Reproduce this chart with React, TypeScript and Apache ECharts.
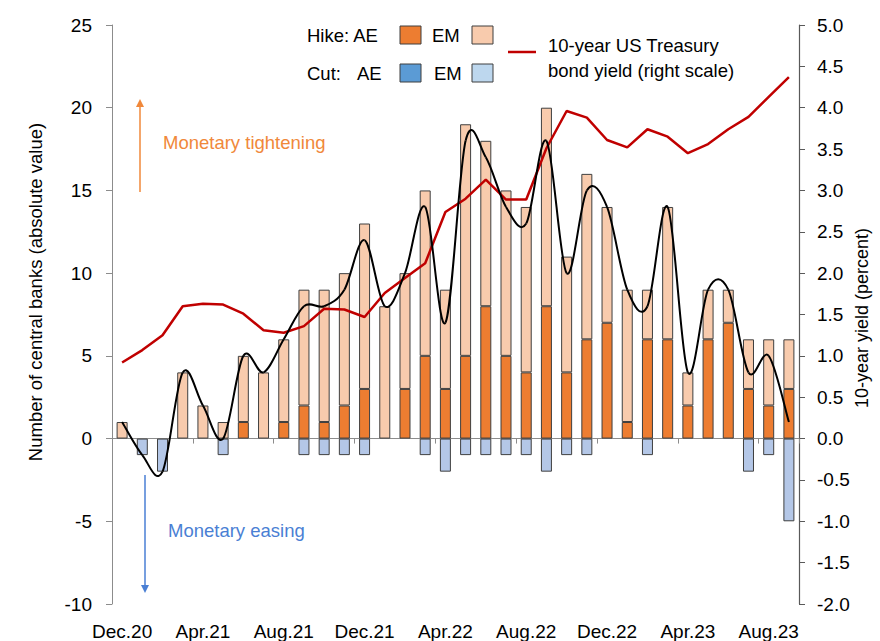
import React, { useEffect, useRef } from "react";
import * as echarts from "echarts";

const months = [
  "Dec.20", "Jan.21", "Feb.21", "Mar.21", "Apr.21", "May.21", "Jun.21", "Jul.21", "Aug.21", "Sep.21", "Oct.21", "Nov.21",
  "Dec.21", "Jan.22", "Feb.22", "Mar.22", "Apr.22", "May.22", "Jun.22", "Jul.22", "Aug.22", "Sep.22", "Oct.22", "Nov.22",
  "Dec.22", "Jan.23", "Feb.23", "Mar.23", "Apr.23", "May.23", "Jun.23", "Jul.23", "Aug.23", "Sep.23",
];

// Number of central banks (absolute values)
const hikeAE = [0, 0, 0, 0, 0, 0, 1, 0, 1, 2, 1, 2, 3, 0, 3, 5, 3, 5, 8, 5, 4, 8, 4, 6, 7, 1, 6, 6, 2, 6, 7, 3, 2, 3];
const hikeEM = [1, 0, 0, 4, 2, 1, 4, 4, 5, 7, 8, 8, 10, 8, 7, 10, 6, 14, 10, 10, 10, 12, 7, 10, 7, 8, 3, 8, 2, 3, 2, 3, 4, 3];
const cutAE = [0, 0, 0, 0, 0, 0, 0, 0, 0, 0, 0, 0, 0, 0, 0, 0, 0, 0, 0, 0, 0, 0, 0, 0, 0, 0, 0, 0, 0, 0, 0, 0, 0, 0];
const cutEM = [0, 1, 2, 0, 0, 1, 0, 0, 0, 1, 1, 1, 1, 0, 0, 1, 2, 1, 1, 1, 1, 2, 1, 1, 0, 0, 1, 0, 0, 0, 0, 2, 1, 5];

// 10-year US Treasury bond yield (percent)
const yield10y = [
  0.92, 1.07, 1.25, 1.6, 1.63, 1.62, 1.51, 1.31, 1.28, 1.36, 1.57, 1.56, 1.47, 1.76, 1.94, 2.12, 2.74,
  2.9, 3.13, 2.89, 2.89, 3.51, 3.96, 3.88, 3.61, 3.52, 3.74, 3.65, 3.45, 3.56, 3.74, 3.89, 4.13, 4.37,
];

const leftTicks = { min: -10, max: 25, interval: 5 };
const rightTicks = { min: -2, max: 5, interval: 0.5 };

const FONT = "'Liberation Sans', Arial, sans-serif";
const C_HIKE_AE = "#ED7D31";
const C_HIKE_EM = "#F8CBAD";
const C_CUT_AE = "#5B9BD5";
const C_CUT_EM = "#B4C7E7";
const C_CUT_EM_LEG = "#BDD7EE";
const C_BORDER = "#3F3F3F";
const C_RED = "#C00000";

export default function App() {
  const ref = useRef<HTMLDivElement>(null);

  useEffect(() => {
    if (!ref.current) return;
    const chart = echarts.init(ref.current, undefined, { renderer: "svg" });

    const nz = (arr: number[], sign = 1) => arr.map((v) => (v === 0 ? null : sign * v));
    const net = months.map((_, i) => hikeAE[i] + hikeEM[i] - cutAE[i] - cutEM[i]);

    const barBase = {
      type: "bar",
      stack: "banks",
      barWidth: 11,
      xAxisIndex: 0,
      yAxisIndex: 0,
    };

    const txt = (x: number, y: number, text: string, extra: any = {}) => ({
      type: "text",
      x,
      y,
      style: {
        text,
        fill: "#000",
        font: `18.5px ${FONT}`,
        verticalAlign: "middle",
        align: "left",
        ...extra,
      },
      z: 100,
    });
    const box = (x: number, y: number, fill: string) => ({
      type: "rect",
      shape: { x, y, width: 21, height: 18 },
      style: { fill, stroke: C_BORDER, lineWidth: 1 },
      z: 100,
    });

    // Smooth (Catmull-Rom style) net line, one bezier segment per month, through the axes' scales
    const renderNet = (params: any, api: any) => {
      const i = params.dataIndex;
      const n = net.length;
      if (i >= n - 1) return { type: "group", children: [] };
      const p = (k: number) => api.coord([Math.max(0, Math.min(n - 1, k)), net[Math.max(0, Math.min(n - 1, k))]]);
      const p0 = p(i - 1);
      const p1 = p(i);
      const p2 = p(i + 1);
      const p3 = p(i + 2);
      const t = 6;
      return {
        type: "bezierCurve",
        shape: {
          x1: p1[0],
          y1: p1[1],
          x2: p2[0],
          y2: p2[1],
          cpx1: p1[0] + (p2[0] - p0[0]) / t,
          cpy1: p1[1] + (p2[1] - p0[1]) / t,
          cpx2: p2[0] - (p3[0] - p1[0]) / t,
          cpy2: p2[1] - (p3[1] - p1[1]) / t,
        },
        style: { stroke: "#000", lineWidth: 2, fill: null },
      };
    };

    const option: any = {
      animation: false,
      textStyle: { fontFamily: FONT },
      grid: { left: 112, right: 81, top: 25, bottom: 37, containLabel: false },
      xAxis: [
        {
          type: "category",
          data: months,
          position: "bottom",
          axisLine: { show: false, onZero: false },
          axisTick: { show: false },
          axisLabel: { interval: 3, color: "#000", fontSize: 19, fontFamily: FONT, margin: 18 },
          splitLine: { show: false },
        },
        {
          type: "category",
          data: months,
          position: "bottom",
          axisLine: { show: true, onZero: true, onZeroAxisIndex: 0, lineStyle: { color: "#8C8C8C", width: 1 } },
          axisTick: { show: true, interval: 3, length: 5, lineStyle: { color: "#8C8C8C" } },
          axisLabel: { show: false },
          splitLine: { show: false },
        },
      ],
      yAxis: [
        {
          type: "value",
          ...leftTicks,
          position: "left",
          axisLine: { show: true, lineStyle: { color: "#8C8C8C", width: 1 } },
          axisTick: { show: true, length: 6, lineStyle: { color: "#8C8C8C" } },
          axisLabel: { color: "#000", fontSize: 19, fontFamily: FONT, margin: 20 },
          splitLine: { show: false },
        },
        {
          type: "value",
          ...rightTicks,
          position: "right",
          axisLine: { show: true, lineStyle: { color: "#595959", width: 1.2 } },
          axisTick: { show: true, length: 6, lineStyle: { color: "#595959" } },
          axisLabel: {
            color: "#000",
            fontSize: 19,
            fontFamily: FONT,
            margin: 18,
            formatter: (v: number) => v.toFixed(1),
          },
          splitLine: { show: false },
        },
      ],
      series: [
        {
          ...barBase,
          name: "Hike: AE",
          data: nz(hikeAE),
          itemStyle: { color: C_HIKE_AE, borderColor: C_BORDER, borderWidth: 1 },
        },
        {
          ...barBase,
          name: "Hike: EM",
          data: nz(hikeEM),
          itemStyle: { color: C_HIKE_EM, borderColor: C_BORDER, borderWidth: 1 },
        },
        {
          ...barBase,
          name: "Cut: AE",
          data: nz(cutAE, -1),
          itemStyle: { color: C_CUT_AE, borderColor: C_BORDER, borderWidth: 1 },
        },
        {
          ...barBase,
          name: "Cut: EM",
          data: nz(cutEM, -1),
          itemStyle: { color: C_CUT_EM, borderColor: C_BORDER, borderWidth: 1 },
        },
        {
          type: "line",
          name: "10-year US Treasury bond yield (right scale)",
          xAxisIndex: 0,
          yAxisIndex: 1,
          data: yield10y,
          showSymbol: false,
          symbol: "none",
          lineStyle: { color: C_RED, width: 2.5 },
          z: 5,
        },
        {
          type: "custom",
          name: "Net",
          coordinateSystem: "cartesian2d",
          xAxisIndex: 0,
          yAxisIndex: 0,
          data: net.map((v, i) => [i, v]),
          encode: { x: 0, y: 1 },
          renderItem: renderNet,
          clip: false,
          z: 6,
        },
      ],
      graphic: [
        // Legend
        txt(307, 35, "Hike: AE"),
        box(400, 26, C_HIKE_AE),
        txt(432, 35, "EM"),
        box(472, 26, C_HIKE_EM),
        txt(307, 73, "Cut:"),
        txt(357, 73, "AE"),
        box(400, 64, C_CUT_AE),
        txt(434, 73, "EM"),
        box(472, 64, C_CUT_EM_LEG),
        {
          type: "line",
          shape: { x1: 508, y1: 52, x2: 536, y2: 52 },
          style: { stroke: C_RED, lineWidth: 2.5 },
          z: 100,
        },
        txt(548, 45, "10-year US Treasury"),
        txt(548, 70, "bond yield (right scale)"),
        // Axis names
        {
          type: "text",
          x: 35,
          y: 292,
          rotation: Math.PI / 2,
          style: {
            text: "Number of central banks (absolute value)",
            fill: "#000",
            font: `18.5px ${FONT}`,
            align: "center",
            verticalAlign: "middle",
          },
        },
        {
          type: "text",
          x: 862,
          y: 318,
          rotation: Math.PI / 2,
          style: {
            text: "10-year yield (percent)",
            fill: "#000",
            font: `18px ${FONT}`,
            align: "center",
            verticalAlign: "middle",
          },
        },
        // Annotations
        {
          type: "line",
          shape: { x1: 140, y1: 192, x2: 140, y2: 106 },
          style: { stroke: "#F0883A", lineWidth: 1.5 },
        },
        {
          type: "polygon",
          shape: { points: [[136, 107], [144, 107], [140, 99]] },
          style: { fill: "#F0883A" },
        },
        txt(163, 142, "Monetary tightening", { fill: "#F0883A" }),
        {
          type: "line",
          shape: { x1: 145, y1: 475, x2: 145, y2: 586 },
          style: { stroke: "#4A7FD4", lineWidth: 1.5 },
        },
        {
          type: "polygon",
          shape: { points: [[141, 585], [149, 585], [145, 593]] },
          style: { fill: "#4A7FD4" },
        },
        txt(168, 530, "Monetary easing", { fill: "#4A7FD4" }),
      ],
    };

    chart.setOption(option);
    return () => chart.dispose();
  }, []);

  return (
    <div
      ref={ref}
      style={{ position: "absolute", left: 0, top: 0, width: 880, height: 641, background: "#fff" }}
    />
  );
}
